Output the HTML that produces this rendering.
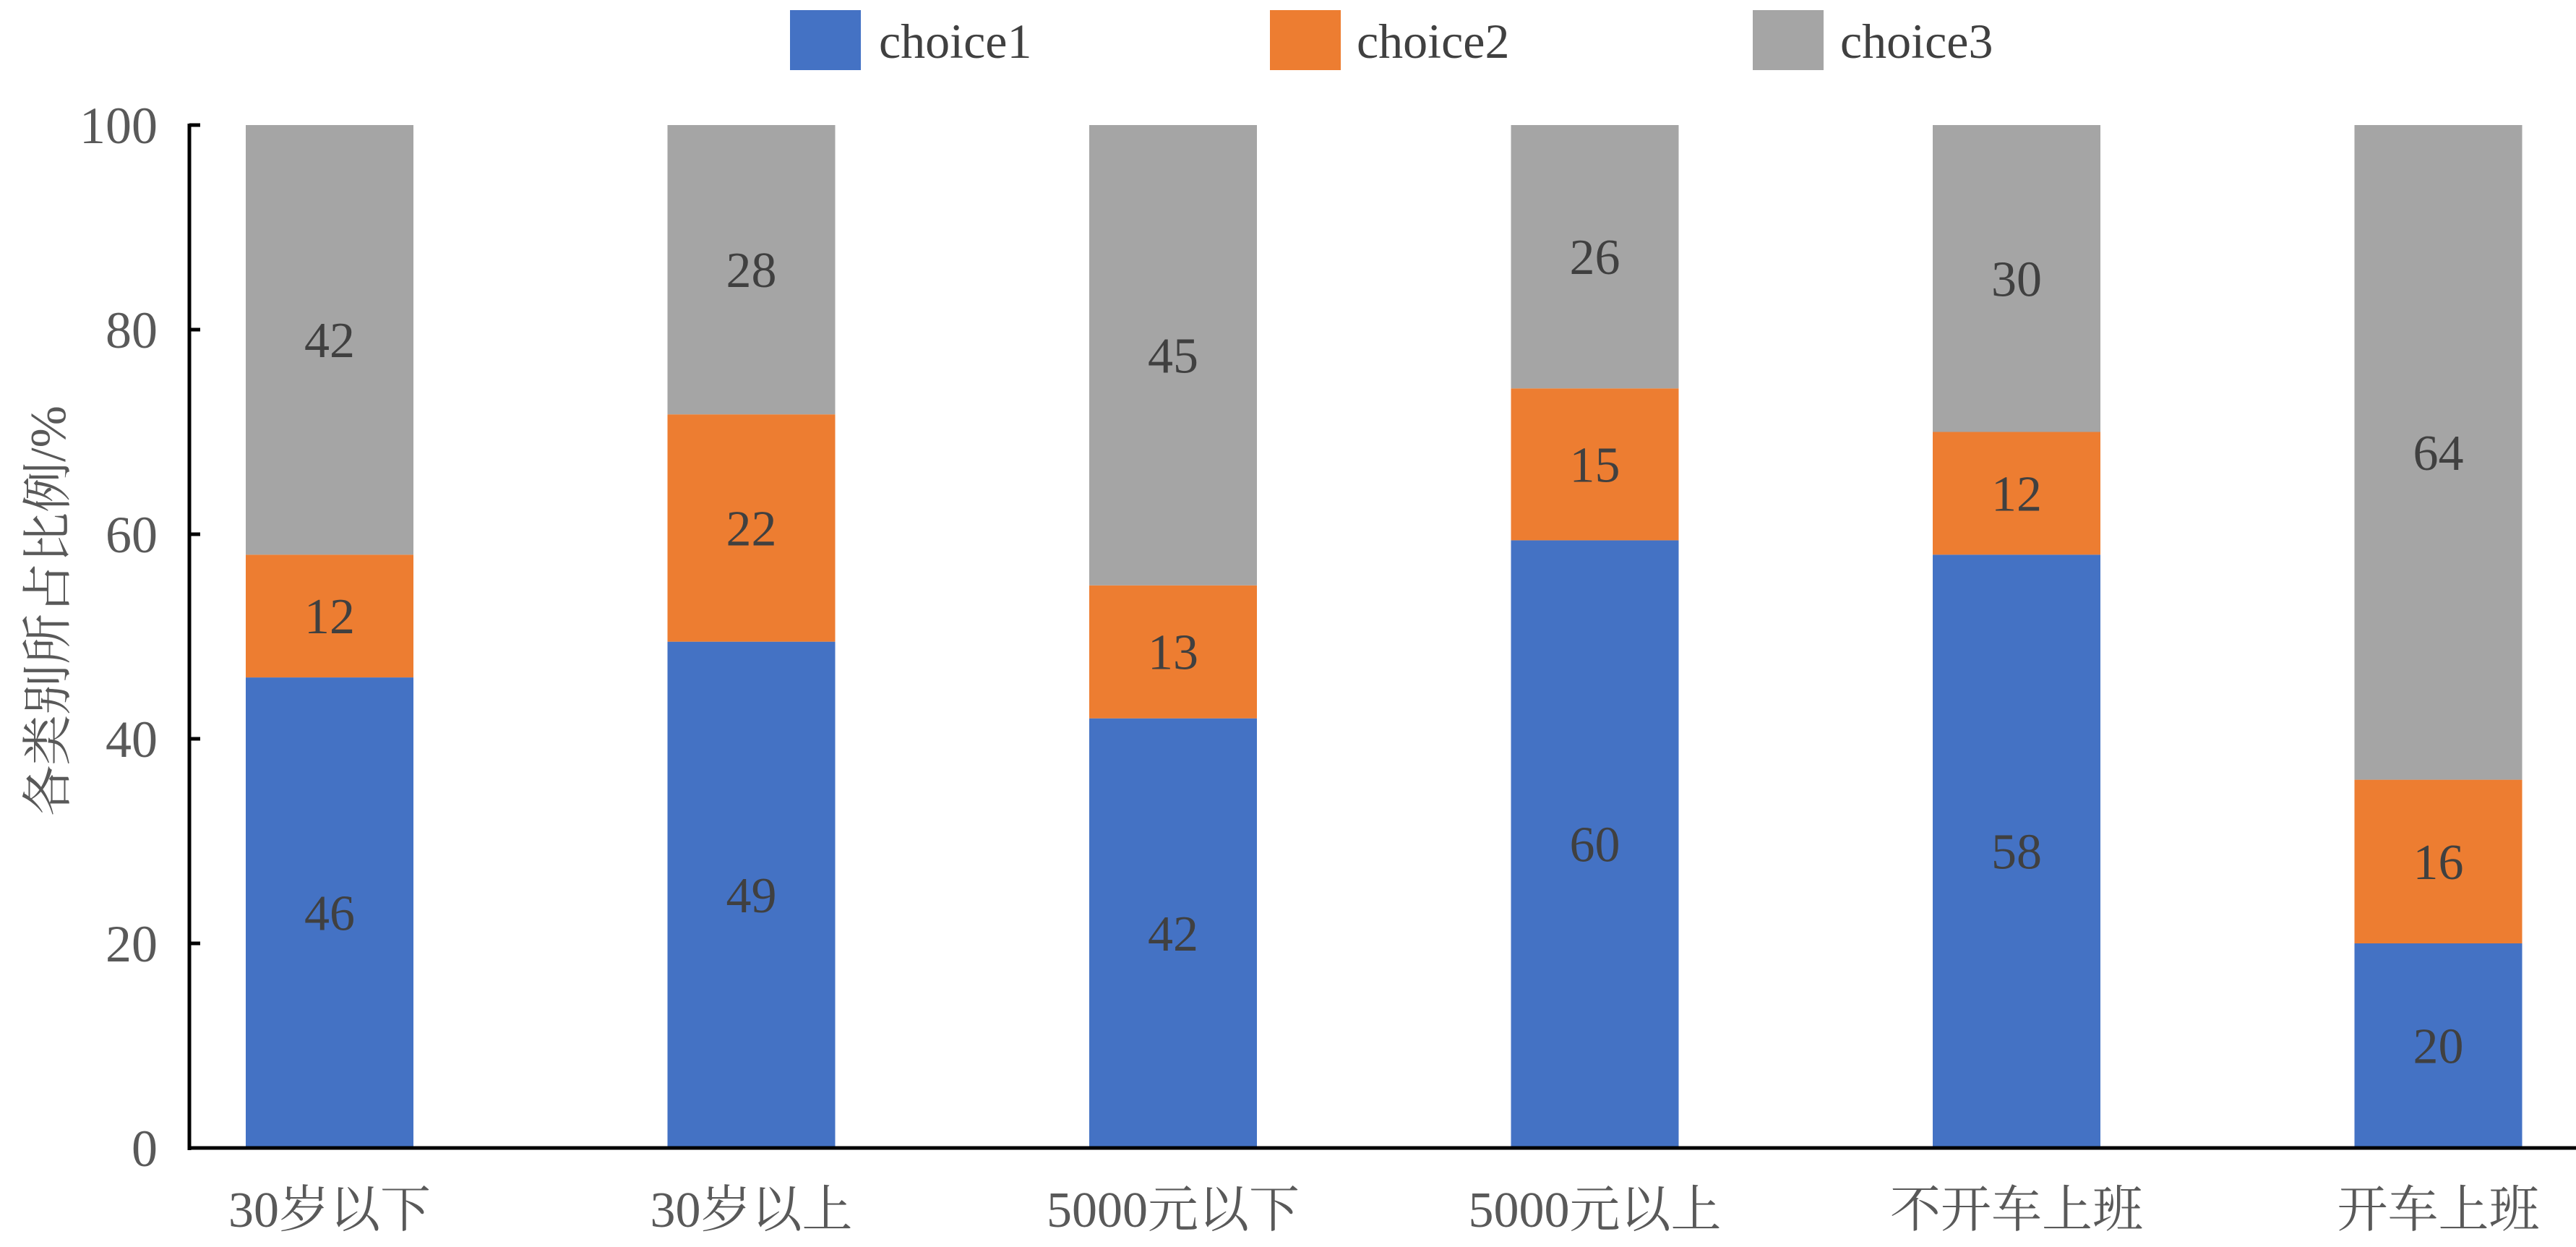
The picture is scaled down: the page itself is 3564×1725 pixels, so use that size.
<!DOCTYPE html>
<html><head><meta charset="utf-8">
<style>
html,body{margin:0;padding:0;background:#fff;}
svg{display:block;}
text{font-family:"Liberation Serif","Noto Serif CJK SC",serif;}
</style></head>
<body>
<svg id="chart" width="3564" height="1725" viewBox="0 0 3564 1725" xmlns="http://www.w3.org/2000/svg">
<g id="legend">
  <rect x="1093" y="14" width="98" height="83" fill="#4472C4"/>
  <text x="1216" y="80" font-size="68" fill="#404040">choice1</text>
  <rect x="1757" y="14" width="98" height="83" fill="#ED7D31"/>
  <text x="1877" y="80" font-size="68" fill="#404040">choice2</text>
  <rect x="2425" y="14" width="98" height="83" fill="#A5A5A5"/>
  <text x="2546" y="80" font-size="68" fill="#404040">choice3</text>
</g>
<g id="bars"></g>
<g id="axes"></g>
<text transform="translate(90,845) rotate(-90)" text-anchor="middle" font-size="70" fill="#595959">各类别所占比例/%</text>
</svg>
<script>
const categories = ["30岁以下","30岁以上","5000元以下","5000元以上","不开车上班","开车上班"];
const choice1 = [46,49,42,60,58,20];
const choice2 = [12,22,13,15,12,16];
const choice3 = [42,28,45,26,30,64];
const yTicks = [0,20,40,60,80,100];

const NS="http://www.w3.org/2000/svg";
const x0=262, y0=1588, yTop=173, firstCenter=456, step=583.5, barW=232;
function yScale(v){ return y0 - (Math.min(v,100))/100*(y0-yTop); }
function xCenter(i){ return firstCenter + i*step; }
function mk(tag, attrs, parent){
  const el=document.createElementNS(NS,tag);
  for(const k in attrs) el.setAttribute(k, attrs[k]);
  parent.appendChild(el); return el;
}
const bars=document.getElementById('bars');
const axes=document.getElementById('axes');
const series=[{n:'choice1',d:choice1,c:'#4472C4'},{n:'choice2',d:choice2,c:'#ED7D31'},{n:'choice3',d:choice3,c:'#A5A5A5'}];
categories.forEach((cat,i)=>{
  let total=0; series.forEach(s=>{total+=s.d[i];});
  let cum=0;
  series.forEach(s=>{
    const v=s.d[i];
    const top=yScale((cum+v)/total*100), bot=yScale(cum/total*100);
    const r=mk('rect',{x:xCenter(i)-barW/2,y:top,width:barW,height:Math.max(0,bot-top),fill:s.c},bars);
    
    
    const t=mk('text',{x:xCenter(i),y:(top+bot)/2+24,'text-anchor':'middle','font-size':'70',fill:'#404040'},bars);
    t.textContent=v;
    
    
    cum+=v;
  });
  const cl=mk('text',{x:xCenter(i),y:1697,'text-anchor':'middle','font-size':'70',fill:'#595959'},axes);
  cl.textContent=cat;
  
  
});
const ya=mk('line',{x1:x0,y1:yTop-2,x2:x0,y2:y0+3,stroke:'#000','stroke-width':5},axes);


const xa=mk('line',{x1:x0-2,y1:y0,x2:3564,y2:y0,stroke:'#000','stroke-width':5},axes);


yTicks.forEach(v=>{
  const tk=mk('line',{x1:x0,y1:yScale(v),x2:x0+15,y2:yScale(v),stroke:'#000','stroke-width':5},axes);
  
  
  const tl=mk('text',{x:218,y:yScale(v)+25,'text-anchor':'end','font-size':'72',fill:'#595959'},axes);
  tl.textContent=v;
  
  
});
</script>
</body></html>
